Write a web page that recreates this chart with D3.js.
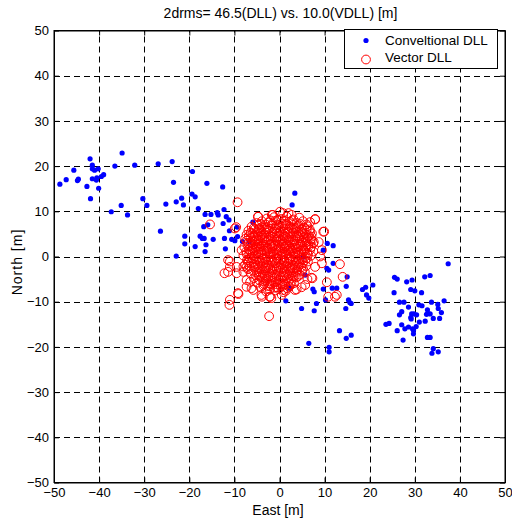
<!DOCTYPE html>
<html>
<head>
<meta charset="utf-8">
<script src="https://cdn.jsdelivr.net/npm/d3@7"></script>
<style>
  body { margin: 0; background: #fff; }
  text { font-family: "Liberation Sans", Arial, sans-serif; }
</style>
</head>
<body>
<div class="canvas"></div>
<script>
const xTicks = [-50, -40, -30, -20, -10, 0, 10, 20, 30, 40, 50];
const yTicks = [-50, -40, -30, -20, -10, 0, 10, 20, 30, 40, 50];

// conventional DLL fixes [east, north]
const dllPoints = [
  [-34.9,22.9],[-42.0,21.6],[-41.5,20.2],[-41.5,19.4],[-41.0,19.1],[-40.2,19.4],[-36.5,20.0],[-32.1,20.2],
  [-26.9,20.5],[-23.8,21.0],[-45.6,19.1],[-47.3,17.0],[-48.7,16.0],[-44.8,16.8],[-44.6,17.1],[-42.7,15.5],
  [-41.5,17.2],[-40.6,16.9],[-40.5,17.4],[-39.5,17.7],[-39.0,18.1],[-40.1,15.1],[-41.9,12.8],[-35.1,11.3],
  [-37.3,9.9],[-33.7,9.2],[-30.3,12.8],[-29.4,11.3],[-25.2,11.6],[-23.5,16.4],[-26.4,5.6],
  [-19.3,18.8],[-16.1,16.2],[-12.6,15.4],[-22.9,12.1],[-21.7,12.9],[-21.3,11.4],[-19.4,13.8],[-18.7,13.2],
  [-18.0,10.6],[-16.5,9.3],[-15.2,9.3],[-13.8,9.7],[-13.6,9.2],[-12.3,10.4],[-11.8,8.8],[-11.2,8.1],
  [-12.5,7.3],[-16.8,6.6],[-15.9,7.0],[-21.0,4.5],[-17.6,4.5],[-17.1,4.0],[-16.7,4.0],[-14.7,3.8],
  [-12.2,4.0],[-10.6,3.8],[-9.9,3.5],[-9.3,4.4],[-9.4,6.5],[-11.1,5.7],[-8.2,3.3],[-21.0,2.8],
  [-18.7,2.2],[-16.3,2.6],[-16.5,1.1],[-12.0,1.7],[-22.9,0.1],[-5.9,7.6],[-6.7,3.3],
  [3.4,14.0],[2.8,11.4],[10.6,2.9],[11.9,2.4],[9.7,1.4],[11.9,-1.5],[10.5,-2.6],[10.9,-3.0],
  [15.0,-4.5],[5.3,-0.1],[5.7,-4.1],[7.4,-7.2],[7.7,-7.8],[9.7,-7.2],[11.7,-7.0],[12.7,-7.0],
  [14.8,-6.6],[18.4,-7.3],[19.1,-6.8],[19.3,-8.5],[19.8,-9.2],[10.2,-9.6],[1.4,-9.8],[4.9,-11.5],
  [8.2,-10.4],[7.7,-12.0],[15.3,-9.6],[15.6,-10.2],[15.9,-10.4],[14.7,-11.5],[13.3,-16.4],[15.9,-17.4],
  [14.8,-18.1],[6.5,-19.2],[11.0,-20.1],[11.0,-21.1],[2.3,-7.0],
  [37.4,-1.6],[25.5,-4.6],[26.1,-5.0],[28.2,-5.6],[29.4,-5.2],[32.2,-4.5],[33.4,-4.2],[20.7,-6.3],
  [25.4,-8.0],[29.1,-7.3],[30.0,-7.6],[31.5,-8.0],[26.6,-10.1],[27.6,-10.1],[28.6,-11.2],[30.9,-10.7],
  [31.6,-10.9],[33.7,-10.1],[35.1,-10.6],[35.2,-11.5],[36.5,-9.8],[27.1,-12.2],[26.6,-12.9],[29.3,-12.7],
  [29.8,-12.7],[30.4,-12.9],[29.1,-13.5],[29.2,-13.8],[32.8,-11.8],[32.9,-12.6],[33.4,-12.7],[32.6,-12.8],
  [35.9,-12.4],[34.1,-13.7],[35.5,-13.7],[31.0,-14.5],[32.3,-14.3],[23.6,-15.0],[24.3,-14.8],[27.1,-15.1],
  [27.8,-16.0],[28.6,-15.6],[29.5,-16.0],[30.3,-15.5],[29.7,-16.3],[26.1,-16.4],[29.7,-17.1],[32.8,-17.9],
  [33.4,-17.9],[27.4,-18.5],[34.1,-20.4],[35.2,-21.1],[33.8,-21.4]
];

// vector DLL fixes [east, north]
const vdllPoints = [
  // outer ring
  [-9.3,12.0],[-15.4,7.1],[-9.6,6.5],[-11.4,-0.8],[-12.2,-3.7],[-4.8,8.8],[-1.5,9.2],[2.0,9.6],
  [0.1,9.9],[7.9,8.3],[9.9,5.5],[6.8,7.6],[8.7,3.2],[9.4,1.4],[13.4,-1.7],[14.0,-4.5],
  [12.3,-8.9],[12.7,-8.5],[10.5,-5.7],[6.2,-5.0],[7.1,-4.7],[3.8,-7.3],[0.8,-7.4],[-11.1,-10.7],
  [-2.3,-13.2],[-2.2,-8.9],[-1.8,-9.2],[-9.2,-8.1],[-7.3,-6.7],[-4.0,-8.5],[-11.0,-2.3],[-9.5,-2.3],
  [-8.0,-2.2],[-7.3,-5.2],[-5.8,-7.4],[-9.5,-3.7],[-8.4,1.4],
  [-4.7,8.8],[-1.7,9.2],[0.8,9.6],[2.7,9.2],[7.9,8.2],[9.7,5.5],[7.1,4.4],[7.5,2.9],[9.0,0.0],
  [9.4,-1.5],[7.9,-2.3],[7.3,-4.8],[5.7,-6.3],[4.9,-6.8],[3.4,-7.4],[0.5,-8.5],[-2.1,-8.9],
  [-3.9,-8.9],[-6.2,-7.0],[-6.5,-5.6],[-9.1,-8.3],[-8.0,-3.4],[-7.3,-2.3],[-11.0,-1.1],[-11.4,-3.4],
  [-6.9,-0.8],[-6.5,1.1],[-5.1,2.2],[-4.7,5.9],[-4.7,3.6],[-9.9,6.2],[-11.0,-9.6],[10.8,-8.9],
  // core
  [-2.8,8.4],[-1.2,8.7],[0.4,8.3],[1.6,8.8],[3.1,8.2],[4.4,8.6],
  [-5.1,7.4],[-3.9,7.8],[-2.4,7.5],[-0.9,7.9],[0.7,7.3],[2.3,7.7],[3.8,7.4],[5.2,7.8],[6.0,7.1],
  [-6.2,6.6],[-4.6,6.9],[-3.3,6.4],[-1.7,6.8],[-0.2,6.5],[1.3,6.9],[2.7,6.3],[4.1,6.7],[5.5,6.4],[6.7,6.0],
  [-6.9,5.7],[-5.5,6.0],[-4.1,5.6],[-2.6,5.9],[-1.2,5.5],[0.3,5.8],[1.8,5.4],[3.2,5.9],[4.7,5.5],[6.0,5.8],[7.2,5.1],
  [-7.3,4.8],[-6.0,5.1],[-4.8,4.7],[-3.4,5.0],[-2.0,4.6],[-0.6,5.1],[0.9,4.7],[2.4,5.0],[3.8,4.6],[5.2,4.9],[6.5,4.5],
  [-7.6,3.9],[-6.4,4.2],[-5.1,3.8],[-3.8,4.1],[-2.5,3.7],[-1.1,4.2],[0.2,3.8],[1.6,4.1],[3.0,3.7],[4.4,4.0],[5.8,3.6],[7.0,3.9],
  [-7.0,3.0],[-5.7,3.3],[-4.4,2.9],[-3.1,3.2],[-1.8,2.8],[-0.4,3.3],[1.0,2.9],[2.3,3.2],[3.7,2.8],[5.1,3.1],[6.4,2.7],[7.6,3.2],
  [-7.8,2.1],[-6.5,2.4],[-5.2,2.0],[-3.9,2.3],[-2.6,1.9],[-1.2,2.4],[0.2,2.0],[1.5,2.3],[2.9,1.9],[4.3,2.2],[5.7,1.8],[7.0,2.1],
  [-7.4,1.1],[-6.1,1.4],[-4.7,1.0],[-3.4,1.3],[-2.1,0.9],[-0.7,1.4],[0.6,1.0],[2.0,1.3],[3.4,0.9],[4.8,1.2],[6.2,0.8],[7.5,1.1],
  [-8.0,0.2],[-6.7,0.5],[-5.4,0.1],[-4.0,0.4],[-2.7,0.0],[-1.3,0.5],[0.1,0.1],[1.4,0.4],[2.8,0.0],[4.2,0.3],[5.6,-0.1],[7.0,0.2],
  [-7.2,-0.8],[-5.9,-0.5],[-4.5,-0.9],[-3.2,-0.6],[-1.8,-1.0],[-0.5,-0.5],[0.9,-0.9],[2.2,-0.6],[3.6,-1.0],[5.0,-0.7],[6.3,-1.1],
  [-7.6,-1.8],[-6.3,-1.5],[-4.9,-1.9],[-3.6,-1.6],[-2.3,-2.0],[-0.9,-1.5],[0.4,-1.9],[1.8,-1.6],[3.1,-2.0],[4.5,-1.7],[5.9,-2.1],
  [-7.0,-2.8],[-5.6,-2.5],[-4.3,-2.9],[-3.0,-2.6],[-1.6,-3.0],[-0.2,-2.5],[1.1,-2.9],[2.5,-2.6],[3.9,-3.0],[5.2,-2.7],
  [-6.4,-3.8],[-5.0,-3.5],[-3.7,-3.9],[-2.3,-3.6],[-1.0,-4.0],[0.4,-3.5],[1.7,-3.9],[3.1,-3.6],[4.5,-4.0],[5.6,-3.4],
  [-5.7,-4.8],[-4.3,-4.5],[-3.0,-4.9],[-1.6,-4.6],[-0.2,-5.0],[1.1,-4.5],[2.5,-4.9],[3.8,-4.6],
  [-5.0,-5.8],[-3.6,-5.5],[-2.2,-5.9],[-0.8,-5.6],[0.6,-6.0],[2.0,-5.5],[3.2,-5.9],
  [-4.2,-6.8],[-2.7,-6.5],[-1.2,-6.9],[0.3,-6.6],[1.7,-7.0],
  [-3.0,-7.7],[-0.9,-7.5],[0.9,-7.9],
  [-4.5,6.2],[-3.0,6.0],[-1.0,6.1],[0.9,6.2],[2.0,6.1],[3.5,6.2],
  [-5.8,4.4],[-4.3,4.4],[-2.9,4.5],[-1.5,4.4],[0.0,4.5],[1.2,4.4],[2.7,4.5],[4.1,4.4],[5.4,4.3],
  [-6.3,3.0],[-4.9,2.6],[-3.5,2.6],[-2.2,2.6],[-0.9,2.7],[0.5,2.6],[1.9,2.6],[3.3,2.5],[4.6,2.6],[6.0,2.5],
  [-6.0,1.8],[-4.2,1.7],[-2.9,1.7],[-1.6,1.8],[-0.3,1.7],[1.1,1.8],[2.5,1.7],[3.9,1.7],[5.3,1.6],
  [-6.2,-0.2],[-4.7,-0.2],[-3.4,-0.3],[-2.0,-0.2],[-0.6,-0.3],[0.8,-0.2],[2.1,-0.3],[3.5,-0.2],[4.9,-0.3],[6.1,-0.4],
  [-5.3,-2.2],[-3.9,-2.2],[-2.5,-2.3],[-1.2,-2.2],[0.2,-2.3],[1.5,-2.2],[2.9,-2.3],[4.2,-2.2],
  [-4.6,-4.2],[-3.3,-4.2],[-2.0,-4.3],[-0.6,-4.2],[0.8,-4.3],[2.1,-4.2],[3.4,-4.3],
  [-3.4,-6.1],[-1.9,-6.1],[-0.4,-6.2],[1.1,-6.2],[2.5,-6.3],
  [-2.0,8.0],[-0.4,8.1],[1.0,7.9],[2.8,8.0],
  [-4.4,7.2],[-3.1,7.1],[-1.6,7.3],[-0.1,7.0],[1.5,7.2],[3.0,7.0],[4.6,7.2],
  [-5.7,6.3],[-3.9,6.5],[-2.3,6.2],[-0.6,6.4],[0.6,6.6],[2.3,6.6],[3.8,6.3],[5.0,6.1],[6.2,6.7],
  [-6.4,5.3],[-4.9,5.3],[-3.0,5.3],[-1.6,5.2],[0.0,5.3],[1.3,5.1],[2.9,5.3],[4.2,5.2],[5.6,5.1],[6.8,5.5],
  [-6.8,4.5],[-5.4,4.6],[-3.9,4.7],[-2.4,4.2],[-0.4,4.4],[0.8,4.1],[2.2,4.3],[3.5,4.2],[4.9,4.5],[6.1,4.1],
  [-7.3,3.5],[-6.0,3.6],[-4.7,3.4],[-3.4,3.6],[-2.0,3.4],[-0.8,3.7],[0.6,3.4],[1.9,3.6],[3.3,3.3],[4.8,3.5],[6.0,3.2],[7.2,3.5],
  [-7.1,2.6],[-5.8,2.7],[-4.4,2.2],[-3.0,2.2],[-1.7,2.1],[-0.2,2.3],[1.2,2.1],[2.2,2.2],[3.6,2.0],[5.0,2.3],[6.4,2.2],
  [-6.8,1.6],[-5.3,1.5],[-4.0,1.0],[-2.8,1.2],[-1.5,1.1],[0.0,1.2],[1.3,1.0],[2.7,1.2],[4.1,1.0],[5.5,1.3],[6.8,1.5],
  [-7.3,0.6],[-6.0,0.8],[-4.7,0.5],[-3.3,0.7],[-2.0,0.5],[-0.6,0.7],[0.7,0.5],[2.1,0.7],[3.5,0.5],[4.9,0.6],[6.3,0.4],
  [-6.6,-0.4],[-5.2,-0.6],[-3.9,-0.5],[-2.5,-0.7],[-1.1,-0.7],[0.3,-0.6],[1.6,-0.5],[2.9,-0.7],[4.3,-0.6],[5.7,-0.8],
  [-7.0,-1.3],[-5.6,-1.2],[-4.2,-1.4],[-2.9,-1.3],[-1.5,-1.3],[-0.2,-1.2],[1.1,-1.3],[2.5,-1.2],[3.8,-1.4],[5.2,-1.3],
  [-6.6,-2.2],[-4.6,-2.5],[-3.3,-2.6],[-2.0,-2.6],[-0.6,-2.7],[0.8,-2.5],[2.2,-2.7],[3.5,-2.5],[4.8,-2.4],
  [-5.8,-3.2],[-4.5,-3.3],[-3.1,-3.2],[-1.7,-3.4],[-0.3,-3.2],[1.0,-3.4],[2.4,-3.2],[3.8,-3.4],[5.0,-3.2],
  [-5.2,-4.2],[-3.9,-4.6],[-2.5,-4.5],[-1.1,-4.7],[0.3,-4.6],[1.6,-4.8],[3.0,-4.4],[4.2,-4.3],
  [-4.4,-5.3],[-3.0,-5.3],[-1.5,-5.4],[0.0,-5.3],[1.4,-5.3],[2.7,-5.4],
  [-3.6,-6.4],[-2.1,-6.6],[-0.6,-6.8],[0.8,-6.5],[2.1,-6.7],
  [-2.2,-7.3],[-0.2,-7.2],[1.4,-7.6]
];

const legendLabels = ['Conveltional DLL', 'Vector DLL'];

const svg = d3.select('.canvas')
  .append('svg')
  .attr('width', 512)
  .attr('height', 522);

const plotLeft = 54, plotRight = 505, plotTop = 30.5, plotBottom = 482.5;

const x = d3.scaleLinear().domain([-50, 50]).range([plotLeft, plotRight]);
const y = d3.scaleLinear().domain([-50, 50]).range([plotBottom, plotTop]);

// dashed grid
const grid = svg.append('g')
  .attr('stroke', '#000')
  .attr('stroke-width', 1)
  .attr('stroke-dasharray', '6,4');

grid.selectAll('.gx')
  .data(xTicks.slice(1, -1))
  .enter()
  .append('line')
  .attr('x1', d => Math.round(x(d)) + 0.5)
  .attr('x2', d => Math.round(x(d)) + 0.5)
  .attr('y1', plotBottom)
  .attr('y2', plotTop);

grid.selectAll('.gy')
  .data(yTicks.slice(1, -1))
  .enter()
  .append('line')
  .attr('y1', d => Math.round(y(d)) + 0.5)
  .attr('y2', d => Math.round(y(d)) + 0.5)
  .attr('x1', plotLeft)
  .attr('x2', plotRight);

// conventional DLL dots
svg.append('g')
  .selectAll('circle')
  .data(dllPoints)
  .enter()
  .append('circle')
  .attr('cx', d => x(d[0]))
  .attr('cy', d => y(d[1]))
  .attr('r', 2.6)
  .attr('fill', '#0000ff');

// vector DLL circles
svg.append('g')
  .selectAll('circle')
  .data(vdllPoints)
  .enter()
  .append('circle')
  .attr('cx', d => x(d[0]))
  .attr('cy', d => y(d[1]))
  .attr('r', 4.4)
  .attr('fill', 'none')
  .attr('stroke', '#ff0000')
  .attr('stroke-width', 1);

// axes with inward ticks, box on
const axisFont = g => g.selectAll('text')
  .style('font-size', '13px')
  .style('font-family', '"Liberation Sans", Arial, sans-serif')
  .attr('fill', '#000');

svg.append('g')
  .attr('transform', `translate(0,${plotBottom})`)
  .call(d3.axisBottom(x).tickValues(xTicks).tickSizeInner(-5).tickSizeOuter(0).tickPadding(5))
  .call(axisFont);

svg.append('g')
  .attr('transform', `translate(${plotLeft},0)`)
  .call(d3.axisLeft(y).tickValues(yTicks).tickSizeInner(-5).tickSizeOuter(0).tickPadding(5))
  .call(axisFont);

svg.append('g')
  .attr('transform', `translate(0,${plotTop})`)
  .call(d3.axisTop(x).tickValues(xTicks).tickSizeInner(-5).tickSizeOuter(0).tickFormat(''));

svg.append('g')
  .attr('transform', `translate(${plotRight},0)`)
  .call(d3.axisRight(y).tickValues(yTicks).tickSizeInner(-5).tickSizeOuter(0).tickFormat(''));

svg.selectAll('.domain').attr('stroke', '#000');
svg.selectAll('.tick line').attr('stroke', '#000');

svg.append('rect')
  .attr('x', plotLeft)
  .attr('y', plotTop)
  .attr('width', plotRight - plotLeft)
  .attr('height', plotBottom - plotTop)
  .attr('fill', 'none')
  .attr('stroke', '#000')
  .attr('stroke-width', 1);

// title and axis labels
svg.append('text')
  .attr('x', 280.5)
  .attr('y', 18)
  .attr('text-anchor', 'middle')
  .style('font-size', '14px')
  .text('2drms= 46.5(DLL) vs. 10.0(VDLL) [m]');

svg.append('text')
  .attr('x', 278)
  .attr('y', 515)
  .attr('text-anchor', 'middle')
  .style('font-size', '14px')
  .text('East [m]');

svg.append('text')
  .attr('transform', 'translate(22,262) rotate(-90)')
  .attr('text-anchor', 'middle')
  .style('font-size', '14px')
  .style('letter-spacing', '1px')
  .text('North [m]');

// legend
const legend = svg.append('g');

legend.append('rect')
  .attr('x', 344.5)
  .attr('y', 29.5)
  .attr('width', 153)
  .attr('height', 39)
  .attr('fill', '#fff')
  .attr('stroke', '#000');

legend.append('circle')
  .attr('cx', 366)
  .attr('cy', 40.5)
  .attr('r', 2.6)
  .attr('fill', '#0000ff');

legend.append('circle')
  .attr('cx', 366)
  .attr('cy', 59.5)
  .attr('r', 4.4)
  .attr('fill', 'none')
  .attr('stroke', '#ff0000');

legend.selectAll('.lbl')
  .data(legendLabels)
  .enter()
  .append('text')
  .attr('x', 385)
  .attr('y', (d, i) => 45 + i * 17)
  .style('font-size', '13.5px')
  .text(d => d);
</script>
</body>
</html>
